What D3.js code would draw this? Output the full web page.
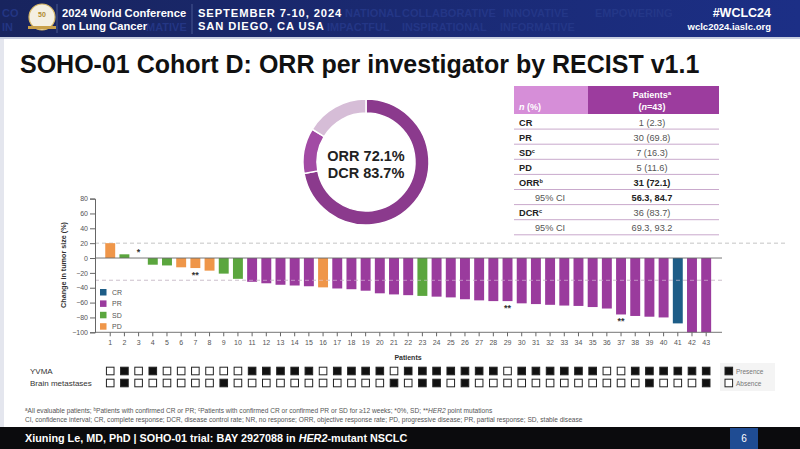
<!DOCTYPE html>
<html><head><meta charset="utf-8">
<script src="https://cdn.jsdelivr.net/npm/d3@7"></script>
<style>
html,body{margin:0;padding:0;background:#fff;}
svg{display:block;font-family:"Liberation Sans",Arial,sans-serif;}
</style></head>
<body>
<svg id="c" width="800" height="449"></svg>
<script>
// ---------- DATA ----------
const patients = d3.range(1, 44);
const changes = [20,5,0,-9,-10,-12.5,-13.5,-17,-21,-28,-32,-34,-36,-37,-38,-39.5,-41,-42,-44,-47.5,-49,-50,-51,-52,-53,-55.5,-57,-58,-58,-61,-62,-63,-64,-64.5,-66,-68,-76,-78,-79,-80,-88,-100,-100];
const responses = ["PD","SD","SD","SD","SD","PD","PD","PD","SD","SD","PR","PR","PR","PR","PR","PD","PR","PR","PR","PR","PR","PR","SD","PR","PR","PR","PR","PR","PR","PR","PR","PR","PR","PR","PR","PR","PR","PR","PR","PR","CR","PR","PR"];
const yvma =  [0,1,0,1,0,0,0,0,0,0,1,1,1,1,1,0,1,1,1,1,0,1,1,1,1,1,1,1,0,1,1,1,1,1,1,0,0,1,1,1,1,1,1];
const brain = [0,1,0,0,0,0,0,0,1,0,0,0,0,0,0,0,0,0,0,0,1,0,1,1,0,1,0,0,0,0,0,0,0,0,0,0,0,0,1,0,0,0,1];
const annotations = [{p:3,text:"*",side:"above"},{p:7,text:"**",side:"below"},{p:29,text:"**",side:"below"},{p:37,text:"**",side:"below"}];
const yTicks = [80,60,40,20,0,-20,-40,-60,-80,-100];
const refLines = [20,-30];
const legendCats = ["CR","PR","SD","PD"];
const donutLabels = ["ORR","SD (DCR)","Other"];
const donutValues = [72.1, 11.6, 16.3];
const tableRows = [
  {label:"CR", sup:"", value:"1 (2.3)", bold:false, indent:false},
  {label:"PR", sup:"", value:"30 (69.8)", bold:false, indent:false},
  {label:"SD", sup:"c", value:"7 (16.3)", bold:false, indent:false},
  {label:"PD", sup:"", value:"5 (11.6)", bold:false, indent:false},
  {label:"ORR", sup:"b", value:"31 (72.1)", bold:true, indent:false},
  {label:"95% CI", sup:"", value:"56.3, 84.7", bold:true, indent:true},
  {label:"DCR", sup:"c", value:"36 (83.7)", bold:false, indent:false},
  {label:"95% CI", sup:"", value:"69.3, 93.2", bold:false, indent:true}
];
const colors = {CR:"#1d5d87", PR:"#9a3b9d", SD:"#5ba63e", PD:"#ef9649"};
const donutColors = ["#8b3a8d","#a24aa4","#d6bdd7"];

// ---------- SETUP ----------
const svg = d3.select("#c");

// header band
const defs = svg.append("defs");
const grad = defs.append("linearGradient").attr("id","hg").attr("x1","0").attr("x2","1");
grad.append("stop").attr("offset","0").attr("stop-color","#18245e");
grad.append("stop").attr("offset","1").attr("stop-color","#1c2f86");
svg.append("rect").attr("x",0).attr("y",0).attr("width",800).attr("height",38).attr("fill","url(#hg)");
svg.append("rect").attr("x",0).attr("y",37).attr("width",800).attr("height",2).attr("fill","#c9cfe0");
// watermark words
const wm = [
  {t:"CO",x:2,y:17},{t:"IN",x:2,y:31},{t:"MATIVE",x:146,y:31},{t:"NATIONAL",x:345,y:17},{t:"IMPACTFUL",x:327,y:31},
  {t:"COLLABORATIVE",x:402,y:17},{t:"INSPIRATIONAL",x:402,y:31},{t:"INFORMATIVE",x:500,y:31},{t:"EMPOWERING",x:595,y:17},{t:"INNOVATIVE",x:503,y:17}
];
svg.selectAll("text.wm").data(wm).enter().append("text").attr("class","wm")
  .attr("x",d=>d.x).attr("y",d=>d.y).text(d=>d.t)
  .attr("font-size",11).attr("font-weight","bold").attr("fill","#26398a").attr("opacity",0.85);
// logo
svg.append("circle").attr("cx",42).attr("cy",17).attr("r",13).attr("fill","#f4efe2").attr("stroke","#d9b864").attr("stroke-width",1.2);
svg.append("text").attr("x",42).attr("y",17).attr("text-anchor","middle").attr("font-size",7).attr("font-weight","bold").attr("fill","#b08a2e").text("50");
svg.append("rect").attr("x",28).attr("y",26).attr("width",28).attr("height",3).attr("fill","#c9a04a");
svg.append("line").attr("x1",57).attr("x2",57).attr("y1",4).attr("y2",33).attr("stroke","#6a78b0").attr("stroke-width",0.6);
svg.append("text").attr("x",62).attr("y",17).attr("fill","#fff").attr("font-size",11.2).attr("font-weight","bold").text("2024 World Conference");
svg.append("text").attr("x",62).attr("y",30).attr("fill","#fff").attr("font-size",11.2).attr("font-weight","bold").text("on Lung Cancer");
svg.append("line").attr("x1",192).attr("x2",192).attr("y1",4).attr("y2",34).attr("stroke","#6a78b0").attr("stroke-width",0.6);
svg.append("text").attr("x",198).attr("y",17).attr("fill","#fff").attr("font-size",11.2).attr("font-weight","bold").attr("letter-spacing",0.9).text("SEPTEMBER 7-10, 2024");
svg.append("text").attr("x",198).attr("y",30).attr("fill","#fff").attr("font-size",11.2).attr("font-weight","bold").attr("letter-spacing",0.9).text("SAN DIEGO, CA USA");
svg.append("text").attr("x",771).attr("y",17).attr("text-anchor","end").attr("fill","#fff").attr("font-size",12.5).attr("font-weight","bold").text("#WCLC24");
svg.append("text").attr("x",771).attr("y",30).attr("text-anchor","end").attr("fill","#fff").attr("font-size",9.5).attr("font-weight","bold").text("wclc2024.iaslc.org");

// slide frame left
svg.append("rect").attr("x",0).attr("y",39).attr("width",4).attr("height",390).attr("fill","#e4e6ee");

// title
svg.append("text").attr("x",20).attr("y",73).attr("font-size",25).attr("font-weight","bold").attr("fill","#111")
  .text("SOHO-01 Cohort D: ORR per investigator by RECIST v1.1");

// ---------- DONUT ----------
const dc = {x:366, y:162};
const pie = d3.pie().sort(null).value(d=>d)(donutValues);
const arc = d3.arc().innerRadius(49).outerRadius(63);
const dg = svg.append("g").attr("transform",`translate(${dc.x},${dc.y})`);
dg.selectAll("path").data(pie).enter().append("path").attr("d",arc)
  .attr("fill",(d,i)=>donutColors[i]).attr("stroke","#fff").attr("stroke-width",1.5);
dg.append("text").attr("y",-1).attr("text-anchor","middle").attr("font-size",14.5).attr("font-weight","bold").attr("fill","#222").text("ORR 72.1%");
dg.append("text").attr("y",16).attr("text-anchor","middle").attr("font-size",14.5).attr("font-weight","bold").attr("fill","#222").text("DCR 83.7%");

// ---------- TABLE ----------
const tx0 = 514, tx1 = 588, tx2 = 719;
svg.append("rect").attr("x",tx0).attr("y",86).attr("width",tx1-tx0).attr("height",28).attr("fill","#d68ed8");
svg.append("rect").attr("x",tx1).attr("y",86).attr("width",tx2-tx1).attr("height",28).attr("fill","#9c3c9e");
const hl = svg.append("text").attr("x",519).attr("y",110).attr("fill","#fff").attr("font-size",9).attr("font-weight","bold");
hl.append("tspan").attr("font-style","italic").text("n");
hl.append("tspan").text(" (%)");
const hp = svg.append("text").attr("x",652).attr("y",98).attr("text-anchor","middle").attr("fill","#fff").attr("font-size",9).attr("font-weight","bold");
hp.append("tspan").text("Patients");
hp.append("tspan").attr("font-size",6).attr("dy",-3).text("a");
const hn = svg.append("text").attr("x",652).attr("y",110).attr("text-anchor","middle").attr("fill","#fff").attr("font-size",9).attr("font-weight","bold");
hn.append("tspan").text("(");
hn.append("tspan").attr("font-style","italic").text("n");
hn.append("tspan").text("=43)");
const rowH = 15.1, row0 = 114;
const rg = svg.selectAll("g.row").data(tableRows).enter().append("g").attr("class","row")
  .attr("transform",(d,i)=>`translate(0,${row0 + i*rowH})`);
rg.append("line").attr("x1",tx0).attr("x2",tx2).attr("y1",rowH).attr("y2",rowH).attr("stroke","#c9a9cc").attr("stroke-width",1);
const lt = rg.append("text").attr("x",d=>d.indent?535:519).attr("y",rowH-3.5).attr("font-size",9.2)
  .attr("font-weight",d=>d.indent?"normal":"bold").attr("fill",d=>d.indent?"#555":"#222");
lt.append("tspan").text(d=>d.label);
lt.append("tspan").attr("font-size",5.5).attr("dy",-3).text(d=>d.sup);
rg.append("text").attr("x",652).attr("y",rowH-3.5).attr("text-anchor","middle").attr("font-size",9.2)
  .attr("font-weight",d=>d.bold?"bold":"normal").attr("fill",d=>d.bold?"#222":"#555").text(d=>d.value);

// ---------- WATERFALL ----------
const x = d3.scaleBand().domain(patients).range([101, 715.4]).padding(0.3);
const y = d3.scaleLinear().domain([-100, 80]).range([332.3, 198.6]);
const axL = 95, axR = 722;
const g = svg.append("g");
// reference lines
g.selectAll("line.ref").data(refLines).enter().append("line").attr("class","ref")
  .attr("x1",axL).attr("x2",(d)=>d>0?785:axR).attr("y1",d=>y(d)).attr("y2",d=>y(d))
  .attr("stroke","#bdbdbd").attr("stroke-width",0.9).attr("stroke-dasharray","4,3");
// bars
g.selectAll("rect.bar").data(patients).enter().append("rect").attr("class","bar")
  .attr("x",p=>x(p)).attr("width",x.bandwidth())
  .attr("y",(p,i)=>y(Math.max(0,changes[i])))
  .attr("height",(p,i)=>Math.abs(y(changes[i])-y(0)))
  .attr("fill",(p,i)=>colors[responses[i]]);
// faint -30 line visible over bars
g.selectAll("line.ref2").data(refLines.filter(d=>d<0)).enter().append("line")
  .attr("x1",axL).attr("x2",axR).attr("y1",d=>y(d)).attr("y2",d=>y(d))
  .attr("stroke","#e6cfe6").attr("stroke-width",0.8).attr("stroke-dasharray","4,3").attr("opacity",0.7);
// zero line
g.append("line").attr("x1",axL).attr("x2",axR).attr("y1",y(0)).attr("y2",y(0)).attr("stroke","#666").attr("stroke-width",0.9);
// y axis
const yAxis = d3.axisLeft(y).tickValues(yTicks).tickSize(5).tickPadding(2);
const ya = g.append("g").attr("transform",`translate(${axL},0)`).call(yAxis);
ya.select(".domain").attr("stroke","#666");
ya.selectAll(".tick line").attr("stroke","#666");
ya.selectAll(".tick text").attr("font-size",7).attr("fill","#555").attr("font-family","Liberation Sans, Arial, sans-serif");
// x axis at bottom
const xAxis = d3.axisBottom(x).tickSize(4).tickPadding(4).tickSizeOuter(0);
const xa = g.append("g").attr("transform",`translate(0,${y(-100)})`).call(xAxis);
xa.select(".domain").remove();
xa.append("line").attr("x1",axL).attr("x2",axR).attr("stroke","#666").attr("stroke-width",0.9);
xa.selectAll(".tick line").attr("stroke","#666");
xa.selectAll(".tick text").attr("font-size",7).attr("fill","#555").attr("font-family","Liberation Sans, Arial, sans-serif");
// axis titles
g.append("text").attr("transform","translate(66,265) rotate(-90)").attr("text-anchor","middle")
  .attr("font-size",7.2).attr("font-weight","bold").attr("fill","#333").text("Change in tumor size (%)");
g.append("text").attr("x",408).attr("y",360).attr("text-anchor","middle").attr("font-size",7).attr("font-weight","bold").attr("fill","#333").text("Patients");
// annotations
g.selectAll("text.ann").data(annotations).enter().append("text").attr("class","ann")
  .attr("x",d=>x(d.p)+x.bandwidth()/2)
  .attr("y",d=>{const v=changes[d.p-1]; return d.side==="above"? y(Math.max(0,v))-3 : y(v)+10;})
  .attr("text-anchor","middle").attr("font-size",9).attr("font-weight","bold").attr("fill","#333").text(d=>d.text);
// legend
const lg = g.selectAll("g.leg").data(legendCats).enter().append("g").attr("class","leg")
  .attr("transform",(d,i)=>`translate(100,${289 + i*11.4})`);
lg.append("rect").attr("width",6.5).attr("height",6.5).attr("fill",d=>colors[d]);
lg.append("text").attr("x",12).attr("y",6).attr("font-size",7).attr("fill","#555").text(d=>d);

// ---------- MARKER ROWS ----------
const rows = [{name:"YVMA", vals:yvma, y:371},{name:"Brain metastases", vals:brain, y:383}];
svg.append("rect").attr("x",720).attr("y",363).attr("width",55).attr("height",28).attr("fill","#f4f4f4");
rows.forEach(r=>{
  svg.append("text").attr("x",30).attr("y",r.y+3).attr("font-size",8).attr("fill","#333").text(r.name);
  svg.selectAll(null).data(patients).enter().append("rect")
    .attr("x",p=>x(p)+x.bandwidth()/2-3.8).attr("y",r.y-3.8).attr("width",7.6).attr("height",7.6)
    .attr("fill",(p,i)=>r.vals[i]?"#111":"#fff").attr("stroke","#222").attr("stroke-width",1);
});
const ml = [{t:"Presence",f:"#111",y:371},{t:"Absence",f:"#fff",y:383}];
ml.forEach(m=>{
  svg.append("rect").attr("x",725).attr("y",m.y-3.8).attr("width",7.6).attr("height",7.6).attr("fill",m.f).attr("stroke","#222").attr("stroke-width",1);
  svg.append("text").attr("x",736).attr("y",m.y+2.5).attr("font-size",6.5).attr("fill","#777").text(m.t);
});

// ---------- FOOTNOTES ----------
const fn1 = svg.append("text").attr("x",25).attr("y",413).attr("font-size",6.6).attr("fill","#555");
fn1.append("tspan").attr("font-size",4.5).attr("dy",-2).text("a");
fn1.append("tspan").attr("dy",2).text("All evaluable patients; ");
fn1.append("tspan").attr("font-size",4.5).attr("dy",-2).text("b");
fn1.append("tspan").attr("dy",2).text("Patients with confirmed CR or PR; ");
fn1.append("tspan").attr("font-size",4.5).attr("dy",-2).text("c");
fn1.append("tspan").attr("dy",2).text("Patients with confirmed CR or confirmed PR or SD for ≥12 weeks; *0%, SD; **");
fn1.append("tspan").attr("font-style","italic").text("HER2");
fn1.append("tspan").text(" point mutations");
svg.append("text").attr("x",25).attr("y",421.5).attr("font-size",6.6).attr("fill","#555")
  .text("CI, confidence interval; CR, complete response; DCR, disease control rate; NR, no response; ORR, objective response rate; PD, progressive disease; PR, partial response; SD, stable disease");

// ---------- FOOTER ----------
svg.append("rect").attr("x",0).attr("y",427).attr("width",800).attr("height",22).attr("fill","#0b0b0d");
const ft = svg.append("text").attr("x",25).attr("y",442).attr("font-size",10.8).attr("font-weight","bold").attr("fill","#fff");
ft.append("tspan").text("Xiuning Le, MD, PhD | SOHO-01 trial: BAY 2927088 in ");
ft.append("tspan").attr("font-style","italic").text("HER2");
ft.append("tspan").text("-mutant NSCLC");
svg.append("rect").attr("x",730).attr("y",428).attr("width",28).attr("height",21).attr("fill","#1f4c93");
svg.append("text").attr("x",744).attr("y",442).attr("text-anchor","middle").attr("font-size",10).attr("fill","#fff").text("6");
</script>
</body></html>
